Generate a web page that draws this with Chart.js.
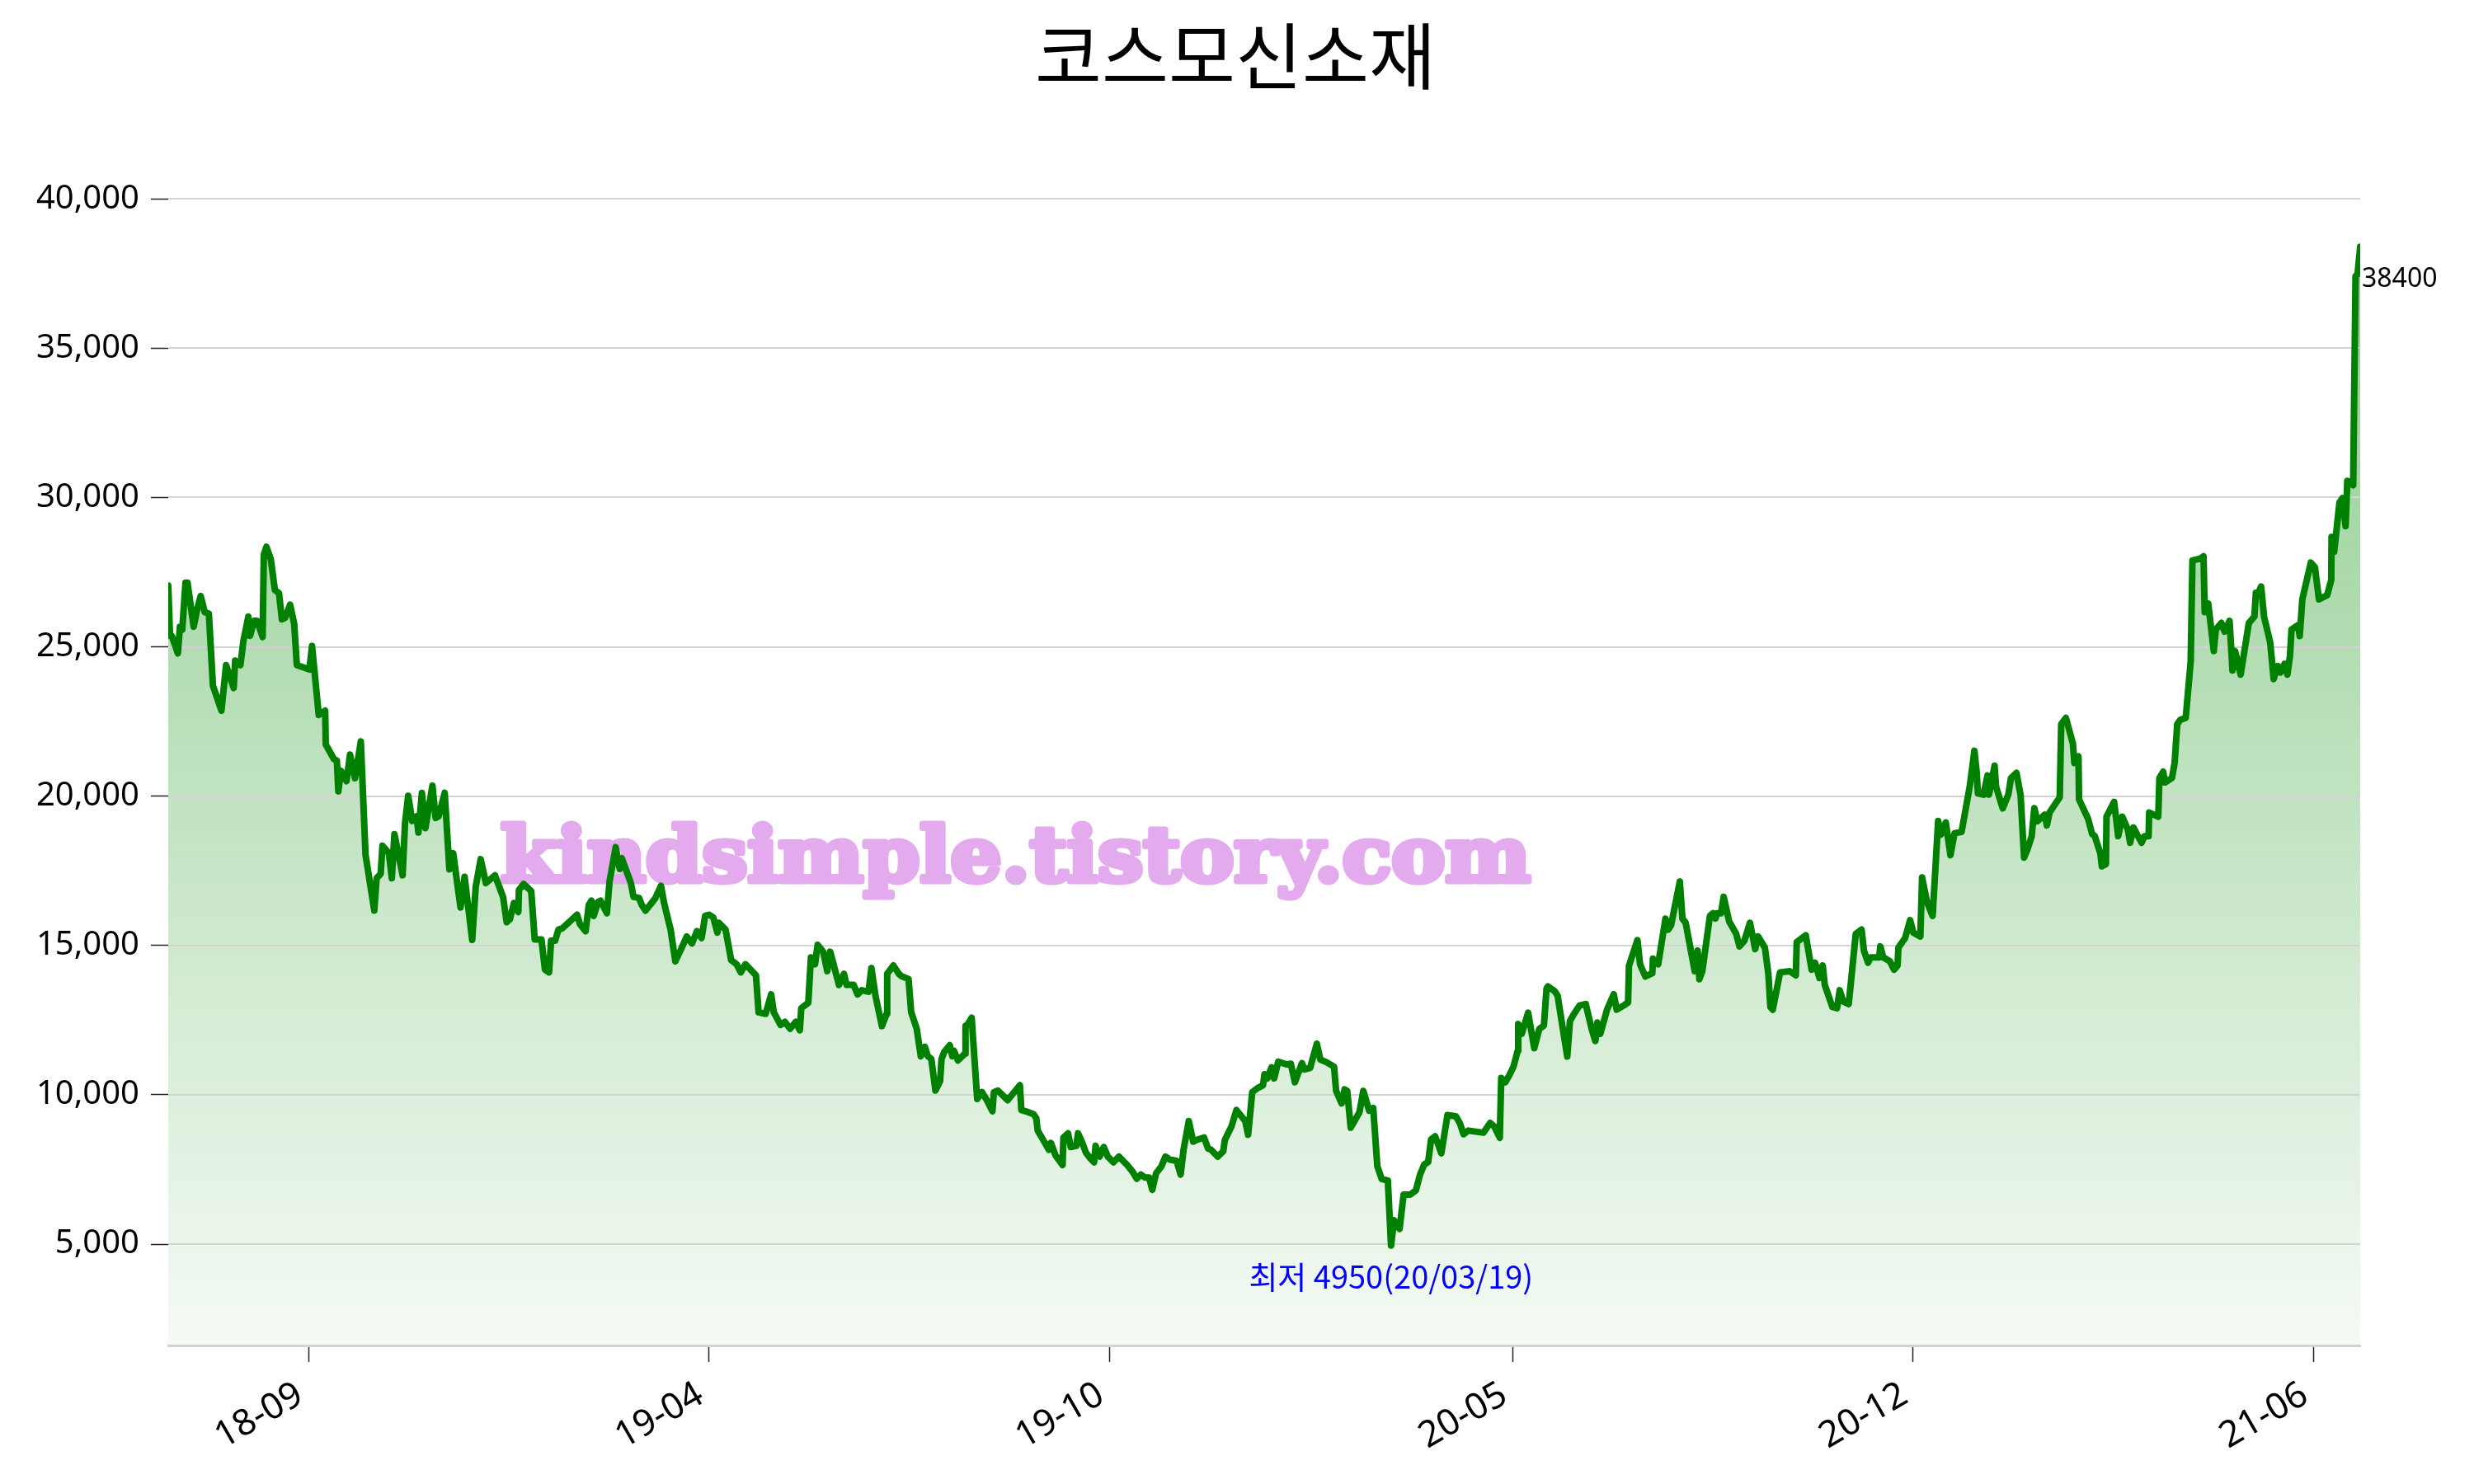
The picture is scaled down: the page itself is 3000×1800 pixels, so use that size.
<!DOCTYPE html>
<html>
<head>
<meta charset="utf-8">
<script src="https://cdn.jsdelivr.net/npm/chart.js@4.4.1/dist/chart.umd.min.js"></script>
<style>
  html, body { margin: 0; padding: 0; background: #fff; }
  canvas { display: block; }
</style>
</head>
<body>
<canvas id="chart" width="3000" height="1800"></canvas>
<script>
/* =========================
   DATA (trading-day index, closing price)
========================= */
const days = [
  0, 0.6, 1.2, 3.3, 4.0, 4.8, 5.9, 6.6, 8.7, 9.9, 11.1, 12.5, 13.9, 15.3, 18.2, 19.8,
  22.4, 22.9, 24.7, 25.7, 27.4, 28.0, 29.4, 30.4, 32.3, 32.7, 33.6, 35.1, 36.5, 37.9, 38.9, 40.0,
  41.7, 43.1, 44.0, 48.3, 49.2, 51.5, 53.7, 53.9, 56.7, 57.7, 58.2, 59.1, 61.0, 62.2, 63.9, 65.9,
  67.5, 70.5, 71.3, 72.7, 73.3, 75.5, 76.5, 77.4, 80.2, 81.0, 82.1, 83.5, 85.0, 85.6, 86.8, 88.0,
  90.4, 91.5, 92.5, 94.6, 96.2, 97.5, 100.0, 101.4, 104.0, 105.2, 106.9, 108.7, 111.8, 114.6, 115.8, 116.9,
  118.3, 119.8, 120.0, 121.6, 124.2, 125.4, 127.7, 128.9, 130.3, 131.0, 132.4, 133.5, 134.8, 139.9, 140.9, 142.8,
  143.9, 144.8, 145.6, 147.0, 147.9, 150.1, 151.0, 153.1, 154.5, 155.2, 158.3, 159.2, 161.1, 162.0, 163.3, 164.9,
  166.7, 168.6, 169.6, 171.2, 171.9, 173.5, 175.5, 177.4, 179.2, 180.9, 182.5, 183.7, 185.1, 186.5, 187.9, 188.4,
  190.7, 192.6, 194.5, 195.9, 197.5, 201.1, 202.0, 204.4, 206.3, 207.2, 209.5, 211.0, 212.8, 214.7, 216.1, 216.6,
  219.0, 219.9, 221.3, 222.2, 224.1, 225.5, 226.5, 229.5, 231.2, 232.1, 234.5, 235.9, 237.3, 239.6, 240.6, 242.0,
  244.2, 245.8, 246.0, 248.1, 250.0, 250.9, 253.3, 254.2, 256.1, 257.5, 258.9, 259.9, 261.1, 262.5, 264.1, 264.6,
  265.5, 267.4, 268.3, 268.8, 270.2, 272.6, 272.8, 273.5, 274.9, 276.8, 278.4, 280.1, 282.0, 282.5, 283.9, 287.2,
  291.4, 291.9, 293.3, 296.1, 297.0, 297.5, 298.9, 301.3, 302.0, 303.6, 306.0, 306.3, 307.9, 308.8, 310.7, 311.3,
  312.6, 314.0, 315.4, 316.8, 317.3, 318.7, 320.1, 321.5, 323.4, 325.3, 326.7, 328.1, 330.0, 331.4, 332.8, 334.2,
  335.6, 336.7, 338.0, 339.8, 341.2, 342.7, 345.0, 346.4, 347.4, 349.2, 350.7, 351.6, 354.4, 355.8, 356.8, 359.1,
  361.0, 361.5, 363.8, 365.5, 368.5, 369.5, 370.9, 372.8, 374.6, 375.1, 376.1, 377.5, 378.4, 379.8, 382.6, 384.1,
  385.5, 387.9, 388.8, 390.7, 393.0, 394.2, 396.3, 398.9, 399.6, 401.5, 402.5, 403.4, 404.6, 407.6, 408.9, 410.9,
  412.3, 413.7, 415.2, 417.3, 418.4, 419.4, 421.3, 422.7, 425.0, 426.9, 428.3, 429.7, 431.1, 432.1, 433.5, 435.6,
  437.7, 440.6, 442.0, 443.2, 444.8, 450.0, 452.3, 453.7, 455.6, 456.1, 457.5, 458.9, 460.3, 461.7, 461.9, 463.1,
  465.3, 467.4, 469.1, 470.7, 471.6, 472.1, 474.4, 475.4, 476.3, 478.7, 479.6, 481.0, 482.9, 485.0, 487.1, 488.3,
  489.0, 490.0, 492.3, 494.6, 495.6, 498.0, 499.5, 499.8, 502.7, 503.6, 505.4, 507.8, 508.0, 509.8, 512.3, 513.2,
  514.2, 517.2, 518.1, 519.2, 522.3, 523.3, 523.9, 524.9, 527.5, 528.6, 529.4, 529.9, 531.3, 532.2, 534.1, 536.5,
  537.6, 539.3, 541.2, 543.0, 544.0, 546.3, 547.5, 548.2, 549.0, 551.5, 554.8, 556.9, 557.2, 560.3, 562.3, 563.5,
  565.0, 566.1, 566.8, 569.4, 571.0, 571.9, 573.1, 575.0, 577.4, 579.4, 580.2, 581.6, 582.5, 585.4, 585.8, 586.8,
  589.1, 590.5, 591.7, 592.0, 594.3, 596.0, 597.1, 599.5, 600.1, 601.8, 603.7, 605.6, 606.5, 608.2, 609.8, 611.2,
  613.6, 616.4, 618.0, 618.8, 619.2, 621.1, 622.5, 623.0, 624.9, 625.4, 627.7, 629.6, 630.5, 632.4, 633.8, 635.0,
  636.2, 637.6, 638.5, 639.5, 642.1, 642.8, 643.7, 647.2, 647.7, 649.3, 651.7, 652.2, 653.6, 653.8, 656.9, 658.3,
  659.2, 661.1, 661.6, 663.0, 663.2, 665.8, 667.2, 668.6, 670.5, 671.3, 672.4, 675.2, 676.2, 677.6, 677.8, 680.9,
  681.3, 682.6, 683.2, 685.6, 686.5, 687.4, 688.4, 690.3, 692.0, 692.6, 695.4, 696.4, 696.8, 698.0, 699.9, 700.6,
  702.5, 703.6, 705.3, 706.3, 707.2, 709.1, 711.9, 713.8, 714.3, 715.2, 716.1, 717.1, 719.2, 720.4, 721.8, 722.7,
  724.1, 725.1, 726.0, 726.5, 728.8, 729.3, 730.2, 733.1, 734.5, 735.9, 738.7, 740.1, 740.2, 741.1, 742.9, 743.9,
  745.0, 745.6, 747.6, 748.4, 749.1, 750.0
];

const prices = [
  27050, 25370, 25370, 24780, 25670, 25570, 27150, 27150, 25670, 26260, 26700, 26160, 26110, 23700, 22860, 24390,
  23620, 24540, 24390, 25180, 26010, 25370, 25870, 25870, 25330, 28080, 28350, 27930, 26900, 26800, 25920, 25970,
  26410, 25770, 24390, 24240, 25030, 22720, 22860, 21730, 21240, 21190, 20160, 20850, 20500, 21390, 20600, 21830,
  18040, 16170, 17250, 17400, 18340, 18090, 17250, 18730, 17350, 19070, 20010, 19170, 19320, 18780, 20110, 18930,
  20350, 19270, 19320, 20110, 17550, 18090, 16270, 17300, 15190, 16960, 17890, 17090, 17350, 16610, 15780, 15880,
  16420, 16120, 16860, 17060, 16820, 15200, 15200, 14190, 14100, 15160, 15160, 15530, 15570, 16030, 15710, 15480,
  16360, 16500, 15990, 16450, 16500, 16080, 17140, 18290, 17560, 17920, 17090, 16630, 16590, 16360, 16170, 16360,
  16590, 17000, 16450, 15800, 15530, 14470, 14880, 15300, 15070, 15480, 15250, 15990, 16030, 15940, 15430, 15760,
  15530, 14510, 14370, 14100, 14370, 14000, 12760, 12710, 13360, 12760, 12340, 12440, 12210, 12440, 12160, 12900,
  13080, 14600, 14370, 15020, 14790, 14140, 14790, 13680, 14050, 13680, 13680, 13360, 13500, 13450, 14240, 13310,
  12300, 12710, 14050, 14330, 14050, 13970, 13880, 12770, 12210, 11290, 11610, 11290, 11200, 10140, 10460, 11200,
  11430, 11660, 11290, 11480, 11150, 11380, 12310, 12350, 12580, 9860, 10090, 9820, 9450, 10090, 10140, 9820,
  10320, 9490, 9450, 9350, 9220, 8800, 8570, 8160, 8390, 7970, 7650, 8570, 8710, 8250, 8290, 8710,
  8430, 8060, 7880, 7740, 8290, 7930, 8250, 7930, 7740, 7930, 7790, 7650, 7420, 7190, 7330, 7230,
  7230, 6820, 7370, 7600, 7930, 7830, 7790, 7330, 8160, 9120, 8430, 8480, 8570, 8200, 8160, 7930,
  8110, 8480, 8940, 9490, 9120, 8660, 10090, 10230, 10320, 10690, 10550, 10920, 10550, 11110, 11020, 11040,
  10420, 11060, 10850, 10900, 11710, 11180, 11090, 10940, 10130, 9710, 10180, 10130, 8900, 9420, 10130, 9470,
  9560, 7610, 7180, 7130, 4950, 5800, 5510, 6660, 6660, 6800, 7320, 7660, 7750, 8510, 8610, 8040,
  9320, 9280, 9040, 8680, 8800, 8730, 9060, 8940, 8560, 10560, 10420, 10660, 10940, 11470, 12370, 12040,
  12750, 11560, 12200, 12320, 13560, 13630, 13470, 13320, 12750, 11280, 12470, 12710, 12990, 13040, 12180, 11800,
  12420, 12040, 12850, 13370, 12850, 12990, 13090, 14320, 15180, 14370, 13960, 14070, 14560, 14370, 15900, 15530,
  15670, 17140, 15900, 15760, 14140, 14830, 13870, 14140, 15990, 16080, 15900, 16080, 16080, 16630, 15800, 15390,
  14970, 15160, 15760, 14880, 15300, 14930, 14050, 12940, 12850, 14100, 14140, 14000, 15110, 15340, 14190, 14420,
  13910, 14330, 13680, 12940, 12900, 13500, 13130, 13040, 15390, 15530, 14830, 14420, 14600, 14600, 14970, 14600,
  14470, 14190, 14330, 14930, 15250, 15850, 15430, 15300, 17280, 16450, 15990, 19170, 18710, 19120, 18020, 18760,
  18800, 20320, 21520, 20780, 20090, 20050, 20690, 20050, 21020, 20320, 19590, 20050, 20600, 20780, 20030, 17940,
  18230, 18660, 19600, 19160, 19380, 19020, 19450, 19960, 22410, 22620, 21760, 21110, 21330, 19890, 19240, 18730,
  18660, 18080, 17650, 17720, 19310, 19810, 18660, 19310, 18880, 18440, 18950, 18440, 18660, 18660, 19450, 19310,
  20610, 20820, 20460, 20610, 21110, 22410, 22550, 22620, 24500, 27890, 27960, 28030, 26160, 26450, 24860, 25580,
  25800, 25510, 25870, 24210, 24860, 24070, 25800, 26010, 26810, 26810, 27020, 26010, 25150, 23920, 24360, 24140,
  24430, 24070, 24720, 25580, 25730, 25360, 26590, 27820, 27670, 26590, 26730, 27240, 28680, 28180, 29830, 29980,
  29040, 30560, 30410, 37410, 37480, 38400
];

/* tick labels (x: trading-day index where each month starts) */
const xTickPos = [48, 185, 322, 460, 597, 734];
const xTickLabels = ['18-09', '19-04', '19-10', '20-05', '20-12', '21-06'];
const yTicks = [5000, 10000, 15000, 20000, 25000, 30000, 35000, 40000];

const title = '코스모신소재';
const watermark = 'kindsimple.tistory.com';
const minDate = '20/03/19';

/* =========================
   DERIVED
========================= */
const minPrice = Math.min(...prices);
const maxPrice = Math.max(...prices);
const minIdx = prices.indexOf(minPrice);
const lastIdx = prices.length - 1;
const pad = (maxPrice - minPrice) * 0.1;

const points = days.map((d, i) => ({ x: d, y: prices[i] }));

/* =========================
   TEXT OVERLAYS + GRID
========================= */
const overlay = {
    id: 'overlay',
    beforeDatasetDraw(chart, args){
        // grid + watermark sit above the fill but under the price line
        if(args.index !== 0) return;
        const c = chart.ctx;
        const area = chart.chartArea;
        const ys = chart.scales.y;
        c.save();

        c.strokeStyle = '#d3d3d3';
        c.lineWidth = 2;
        yTicks.forEach(v => {
            const y = Math.round(ys.getPixelForValue(v));
            c.beginPath();
            c.moveTo(area.left, y);
            c.lineTo(area.right, y);
            c.stroke();
        });

        c.font = 'bold 92px "DejaVu Serif"';
        c.fillStyle = '#e4aaee';
        c.strokeStyle = '#e4aaee';
        c.lineJoin = 'round';
        c.textBaseline = 'alphabetic';
        const w = c.measureText(watermark).width;
        c.translate(607, 1069);
        c.scale((1257 - 8) / w, 1);
        c.lineWidth = 7;
        c.strokeText(watermark, 0, 0);
        c.fillText(watermark, 0, 0);
        c.restore();
    },
    afterDraw(chart){
        const c = chart.ctx;
        const xs = chart.scales.x, ys = chart.scales.y;
        c.save();

        c.fillStyle = '#000';
        c.font = '88px "Noto Sans CJK KR"';
        c.textAlign = 'center';
        c.textBaseline = 'middle';
        c.fillText(title, 1498, 68);

        // lowest close
        c.fillStyle = '#0000ff';
        c.font = '38px "Noto Sans CJK KR"';
        c.fillText('최저 ' + minPrice + '(' + minDate + ')',
            xs.getPixelForValue(days[minIdx]), ys.getPixelForValue(minPrice) + 38);

        // last close
        c.fillStyle = '#000';
        c.font = '32px "Noto Sans"';
        c.textAlign = 'left';
        c.fillText(String(prices[lastIdx]),
            xs.getPixelForValue(days[lastIdx]) + 2, ys.getPixelForValue(prices[lastIdx]) + 40);

        c.restore();
    }
};

/* =========================
   CHART
========================= */
new Chart(document.getElementById('chart'), {
    type: 'line',
    data: {
        datasets: [{
            data: points,
            borderColor: '#008000',
            borderWidth: 8,
            borderJoinStyle: 'round',
            borderCapStyle: 'round',
            pointRadius: 0,
            fill: false,
            tension: 0
        }, {
            data: points,
            borderWidth: 0,
            pointRadius: 0,
            fill: 'start',
            tension: 0,
            backgroundColor: function(ctx){
                const area = ctx.chart.chartArea;
                if(!area) return 'rgba(44,160,44,0.3)';
                const g = ctx.chart.ctx.createLinearGradient(0, area.top, 0, area.bottom);
                g.addColorStop(0, 'rgba(44,160,44,0.56)');
                g.addColorStop(0.42, 'rgba(44,160,44,0.36)');
                g.addColorStop(1, 'rgba(44,160,44,0.05)');
                return g;
            }
        }]
    },
    options: {
        responsive: false,
        animation: false,
        devicePixelRatio: 1,
        layout: { padding: { left: 0, right: 138, top: 178, bottom: 0 } },
        plugins: { legend: { display: false }, tooltip: { enabled: false } },
        scales: {
            x: {
                type: 'linear',
                min: 0,
                max: days[lastIdx],
                afterBuildTicks: s => { s.ticks = xTickPos.map(v => ({ value: v })); },
                afterFit: s => { s.height = 168; },
                ticks: {
                    autoSkip: false,
                    minRotation: 30,
                    maxRotation: 30,
                    padding: 14,
                    labelOffset: -10,
                    color: '#000',
                    font: { family: 'Noto Sans', size: 44 },
                    callback: (v, i) => xTickLabels[i]
                },
                grid: {
                    drawOnChartArea: false,
                    drawTicks: true,
                    tickLength: 20,
                    tickColor: '#222',
                    tickWidth: 1.5
                },
                border: { color: '#d3d3d3', width: 3 }
            },
            y: {
                min: minPrice - pad,
                max: maxPrice + pad,
                afterBuildTicks: s => { s.ticks = yTicks.map(v => ({ value: v })); },
                afterFit: s => { s.width = 204; },
                ticks: {
                    padding: 14,
                    color: '#000',
                    font: { family: 'Noto Sans', size: 40 },
                    callback: v => v.toLocaleString('en-US')
                },
                grid: {
                    drawOnChartArea: false,
                    tickLength: 21,
                    tickColor: '#222',
                    tickWidth: 1.5
                },
                border: { display: false }
            }
        }
    },
    plugins: [overlay]
});
</script>
</body>
</html>
